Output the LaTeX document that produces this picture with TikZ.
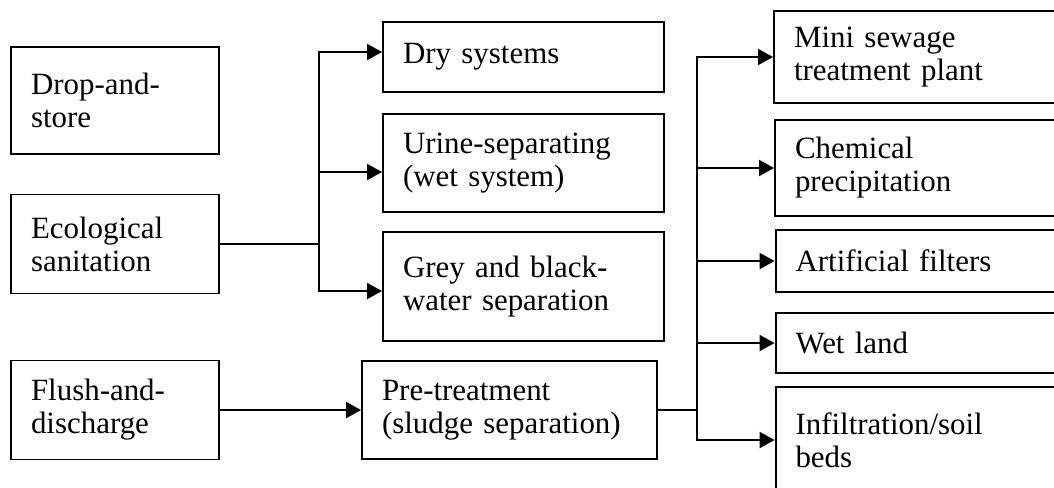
\documentclass[tikz,border=0pt]{standalone}
\usepackage{fontspec}
\setmainfont{Liberation Serif}
\usetikzlibrary{arrows.meta, calc}
\tikzset{
    my-box/.style={
        draw, shape=rectangle, line width=1.1pt, align=left, inner xsep=0pt,
        font=\fontsize{17.6}{18.8}\selectfont
    },
    my-left-box/.style={
        my-box, minimum width=4.16cm, text width=3.36cm
    },
    my-mid-box/.style={
        my-box, minimum width=5.62cm, text width=4.82cm
    },
    my-right-box/.style={
        my-box, minimum width=5.74cm, text width=4.94cm
    },
    my-wire/.style={
        line width=1.1pt
    },
    my-arrow/.style={
        line width=1.1pt, -{Triangle[length=0.3cm, width=0.32cm]}
    },
}

\begin{document}
\begin{tikzpicture}[x=0.02cm, y=-0.02cm]

        % PAGE FRAME
        \useasboundingbox (0, 0) rectangle (1054, 487);
        \clip (0, 0) rectangle (1054, 487);

        % LEFT COLUMN - TOILET TYPES
        \node[my-left-box, minimum height=2.14cm] (DROP)  at (115, 100.5) {Drop-and-\\store};
        \node[my-left-box, minimum height=1.98cm] (ECO)   at (115, 244)   {Ecological\\sanitation};
        \node[my-left-box, minimum height=1.98cm] (FLUSH) at (115, 410)   {Flush-and-\\discharge};

        % MIDDLE COLUMN
        \node[my-mid-box, minimum height=1.40cm] (DRY)   at (523.5, 57)    {Dry systems};
        \node[my-mid-box, minimum height=1.96cm] (URINE) at (523.5, 163)   {Urine-separating\\(wet system)};
        \node[my-mid-box, minimum height=2.18cm] (GREY)  at (523.5, 286.5) {Grey and black-\\water separation};
        \node[my-box, minimum width=5.9cm, text width=5.1cm, minimum height=1.96cm]
                                                  (PRE)   at (509.5, 410)   {Pre-treatment\\(sludge separation)};

        % RIGHT COLUMN - TREATMENT
        \node[my-right-box, minimum height=1.84cm] (MINI) at (917.5, 57)  {Mini sewage\\treatment plant};
        \node[my-right-box, minimum height=1.92cm] (CHEM) at (918.5, 168) {Chemical\\precipitation};
        \node[my-right-box, minimum height=1.24cm] (ART)  at (919, 261)   {Artificial filters};
        \node[my-right-box, minimum height=1.20cm] (WET)  at (919, 343)   {Wet land};
        \node[my-right-box, minimum height=2.12cm] (INF)  at (919, 440)   {Infiltration/soil\\beds};

        % ECOSAN BRANCHES
        \coordinate (ECOSPLIT) at ($(ECO.east) + (99, 0)$);
        \draw[my-wire]  (ECO.east) -- (ECOSPLIT);
        \draw[my-arrow] (ECOSPLIT) |- ($(DRY.west)   + (0, -5)$);
        \draw[my-arrow] (ECOSPLIT) |- ($(URINE.west) + (0, 9)$);
        \draw[my-arrow] (ECOSPLIT) |- ($(GREY.west)  + (0, 4.5)$);

        % FLUSH BRANCH
        \draw[my-arrow] (FLUSH.east) -- (FLUSH.east -| PRE.west);

        % TREATMENT BRANCHES
        \coordinate (PRESPLIT) at ($(PRE.east) + (39, 0)$);
        \draw[my-wire] (PRE.east) -- (PRESPLIT);
        \foreach \n in {MINI, CHEM, ART, WET, INF}
            \draw[my-arrow] (PRESPLIT) |- (\n.west);

    \end{tikzpicture}
\end{document}
